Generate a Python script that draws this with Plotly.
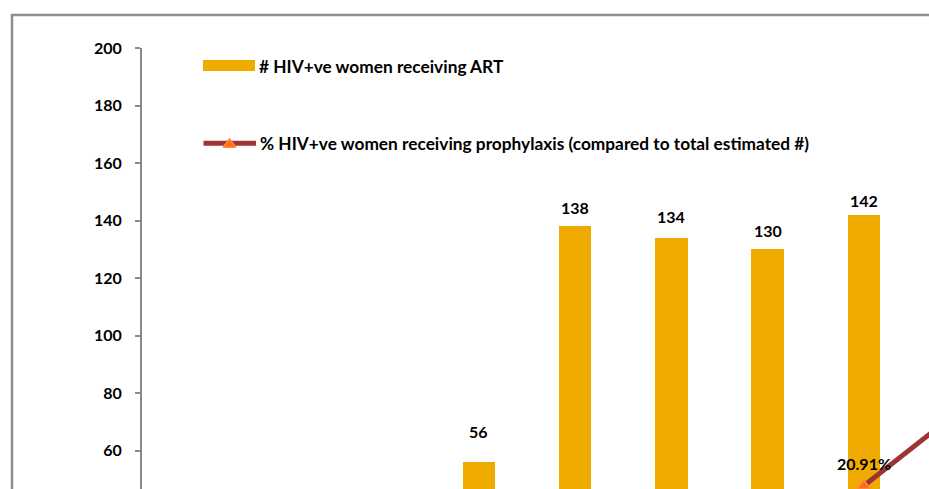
import plotly.graph_objects as go

# ---- data -------------------------------------------------------------
periods = list(range(9))                      # category slots along the x axis
art_women = [None, None, None, 56, 138, 134, 130, 142, None]
prophylaxis_pct = [None, None, None, None, None, None, None, 20.91, 32.4]

bar_name = "# HIV+ve women receiving ART"
line_name = "% HIV+ve women receiving prophylaxis (compared to total estimated #)"

y_ticks = [60, 80, 100, 120, 140, 160, 180, 200]

# ---- styling ----------------------------------------------------------
W, H = 929, 489
M_L, M_R, M_T, M_B = 142, 0, 48, 0
PW, PH = W - M_L - M_R, H - M_T - M_B

BAR_COLOR = "#F0AB00"
LINE_COLOR = "#9C3434"
MARK_COLOR = "#FF6A10"
MARK_EDGE = "#FF8A3D"
AXIS_GREY = "#8A8A8A"
FONT = "Lato, Carlito, Calibri, sans-serif"

CAT_PX = 96.25                                # pixels per category slot
X_RANGE = [-0.5, -0.5 + PW / CAT_PX]
Y_TOP = 200
Y_PER_PX = 1 / 2.876
Y_RANGE = [Y_TOP - PH * Y_PER_PX, Y_TOP]
Y2_MAX = 87.5                                 # secondary axis spans 0..Y2_MAX over 0..200
Y2_RANGE = [Y_RANGE[0] / Y_TOP * Y2_MAX, Y2_MAX]

# pixel lift of each value label above its bar
label_lift = {3: 31, 4: 19, 5: 21, 6: 19, 7: 14}


def px_x(px):
    return (px - M_L) / PW


def px_y(py):
    return (H - M_B - py) / PH


marker_style = dict(symbol="triangle-up", size=11, color=MARK_COLOR,
                    line=dict(color=MARK_EDGE, width=1.5))

fig = go.Figure()

fig.add_trace(go.Bar(
    x=periods, y=art_women, name=bar_name,
    marker=dict(color=BAR_COLOR, line=dict(width=0)),
    width=0.338, showlegend=False, cliponaxis=True,
))

fig.add_trace(go.Scatter(
    x=periods, y=prophylaxis_pct, name=line_name, yaxis="y2",
    mode="lines+markers", connectgaps=False,
    line=dict(color=LINE_COLOR, width=5),
    marker=marker_style, showlegend=False, cliponaxis=True,
))

annotations = []
for x, v in zip(periods, art_women):
    if v is None:
        continue
    annotations.append(dict(
        x=x, y=v, xref="x", yref="y", text=f"{v}", showarrow=False,
        yanchor="middle", yshift=label_lift.get(x, 20),
        font=dict(family=FONT, size=16, color="black", weight="bold"),
    ))
for x, v in zip(periods, prophylaxis_pct):
    if v is None or x > X_RANGE[1]:
        continue
    annotations.append(dict(
        x=x, y=v, xref="x", yref="y2", text=f"{v:.2f}%", showarrow=False,
        yanchor="middle", yshift=22,
        font=dict(family=FONT, size=16, color="black", weight="bold"),
    ))

# legend entries drawn by hand
legend_font = dict(family=FONT, size=17.3, color="black", weight="bold")
annotations.append(dict(
    x=px_x(257), y=px_y(66), xref="paper", yref="paper", text=bar_name,
    showarrow=False, xanchor="left", yanchor="middle", font=legend_font,
))
annotations.append(dict(
    x=px_x(258), y=px_y(143.5), xref="paper", yref="paper", text=line_name,
    showarrow=False, xanchor="left", yanchor="middle", font=legend_font,
))

shapes = [
    # outer chart frame
    dict(type="rect", xref="paper", yref="paper",
         x0=px_x(12), x1=px_x(W + 40), y0=px_y(H + 40), y1=px_y(15),
         line=dict(color="#8E8E8E", width=2.5), fillcolor="rgba(0,0,0,0)",
         layer="above"),
    # bar legend swatch
    dict(type="rect", xref="paper", yref="paper",
         x0=px_x(203), x1=px_x(255), y0=px_y(71), y1=px_y(60),
         line=dict(width=0), fillcolor=BAR_COLOR),
]

# line legend swatch, with its marker
fig.add_trace(go.Scatter(
    x=[px_x(203.5), px_x(256)], y=[px_y(143.3), px_y(143.3)],
    xaxis="x2", yaxis="y3", mode="lines", showlegend=False, hoverinfo="skip",
    line=dict(color=LINE_COLOR, width=5), cliponaxis=False,
))
fig.add_trace(go.Scatter(
    x=[px_x(229.5)], y=[px_y(144.5)], xaxis="x2", yaxis="y3",
    mode="markers", showlegend=False, hoverinfo="skip",
    marker=marker_style, cliponaxis=False,
))

fig.update_layout(
    width=W, height=H,
    margin=dict(l=M_L, r=M_R, t=M_T, b=M_B, pad=0),
    paper_bgcolor="white", plot_bgcolor="white",
    showlegend=False, bargap=0,
    xaxis=dict(range=X_RANGE, visible=False, fixedrange=True),
    xaxis2=dict(range=[0, 1], overlaying="x", visible=False, fixedrange=True),
    yaxis=dict(
        range=Y_RANGE, tickvals=y_ticks, ticktext=[str(t) for t in y_ticks],
        showgrid=False, zeroline=False,
        showline=True, linecolor=AXIS_GREY, linewidth=2,
        ticks="outside", ticklen=5, tickwidth=1.5, tickcolor=AXIS_GREY,
        ticklabelstandoff=10,
        tickfont=dict(family=FONT, size=16, color="black", weight="bold"),
        fixedrange=True,
    ),
    yaxis2=dict(range=Y2_RANGE, overlaying="y", side="right", visible=False,
                fixedrange=True),
    yaxis3=dict(range=[0, 1], overlaying="y", visible=False, fixedrange=True),
    annotations=annotations, shapes=shapes,
)

fig.write_html("out.html", config={"displayModeBar": False})
